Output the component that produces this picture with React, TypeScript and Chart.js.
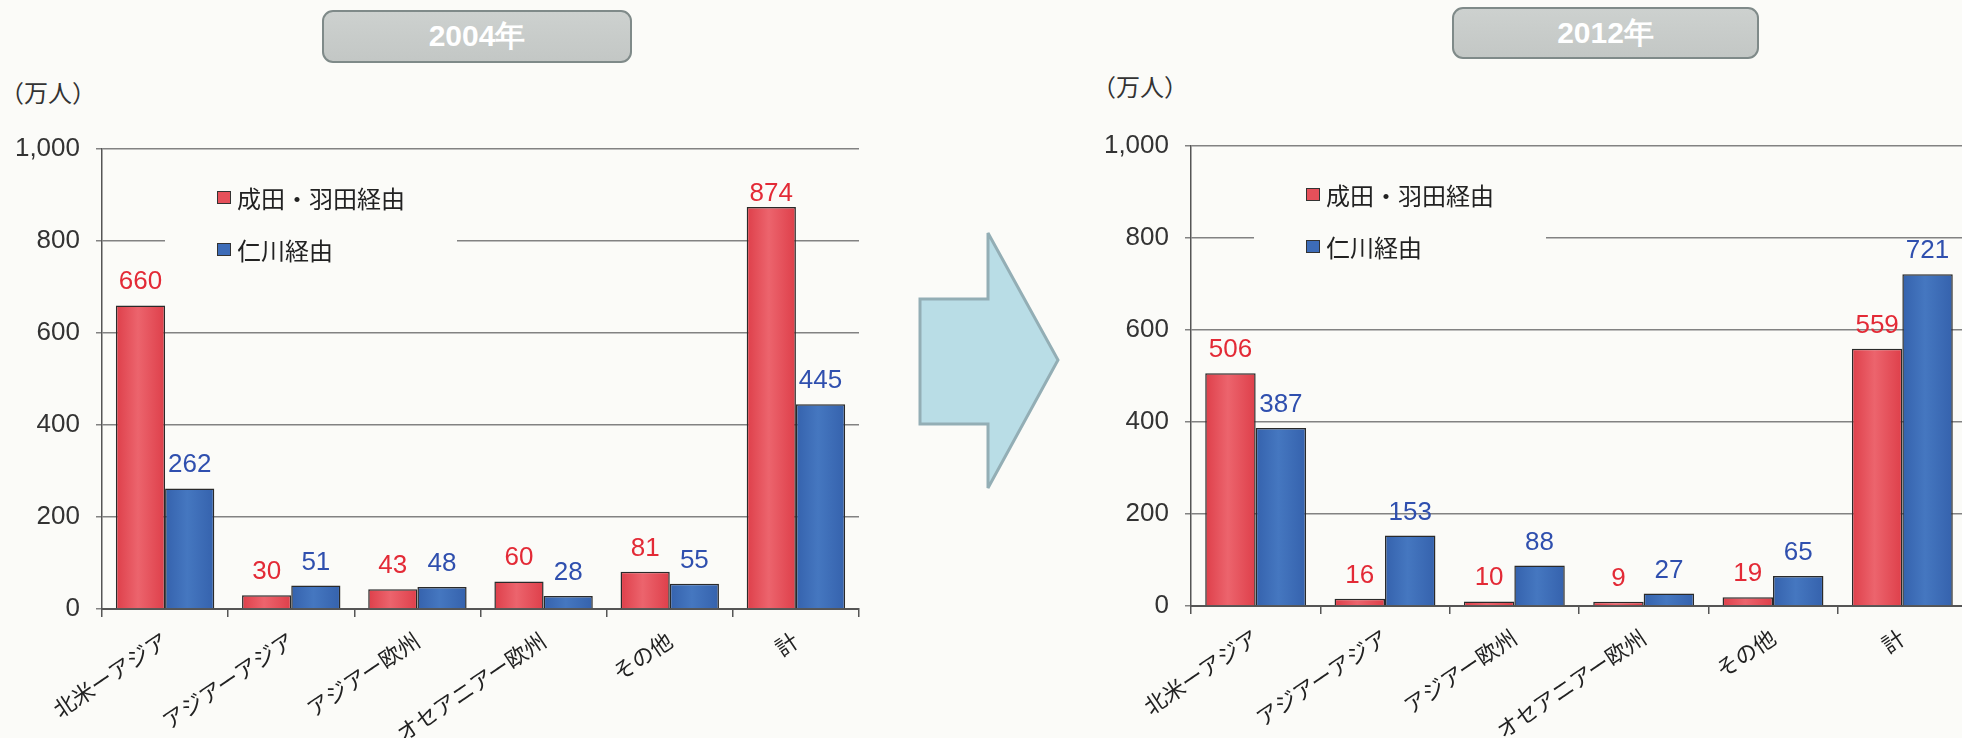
import React, { useEffect, useRef } from "react";
import { Chart, registerables } from "chart.js";

Chart.register(...registerables);

// Route categories shared by both panels
const categories = ["北米ーアジア", "アジアーアジア", "アジアー欧州", "オセアニアー欧州", "その他", "計"];
const seriesNames = ["成田・羽田経由", "仁川経由"];

// Transfer passengers (万人)
const narita2004 = [660, 30, 43, 60, 81, 874];
const incheon2004 = [262, 51, 48, 28, 55, 445];
const narita2012 = [506, 16, 10, 9, 19, 559];
const incheon2012 = [387, 153, 88, 27, 65, 721];

const yTicks = [0, 200, 400, 600, 800, 1000];
const panelTitles = ["2004年", "2012年"];
const unitLabel = "（万人）";

const BAR_FILL = ["#e6505a", "#3d6cb8"];
const BAR_EDGE = ["#de3f4a", "#3562ad"];
const BAR_MID = ["#ec646d", "#4577c0"];
const VALUE_COLOR = ["#e32a36", "#2f4fae"];
const PAGE_BG = "#fbfbf8";
const NUM_FONT = '"Liberation Sans", Arial, sans-serif';
const JP_FONT = '"Noto Sans CJK JP", "Noto Sans", sans-serif';
const GROUP_SHARE = 0.78;

// Soft horizontal shading across each bar
function barShade(di: number) {
  return (c: any) => {
    const chart = c.chart;
    const xs = chart.scales && chart.scales.x;
    if (!chart.chartArea || !xs || c.dataIndex === undefined || !isFinite(xs.width)) return BAR_FILL[di];
    const center = xs.getPixelForValue(c.dataIndex);
    const groupW = (xs.width / categories.length) * GROUP_SHARE;
    const barW = groupW / 2;
    const left = center - groupW / 2 + di * barW;
    const g = chart.ctx.createLinearGradient(left, 0, left + barW, 0);
    g.addColorStop(0, BAR_EDGE[di]);
    g.addColorStop(0.45, BAR_MID[di]);
    g.addColorStop(1, BAR_EDGE[di]);
    return g;
  };
}

// Numbers printed above each bar (kept a little below the top gridline)
const valueLabels = {
  id: "valueLabels",
  afterDatasetsDraw(chart: any) {
    const ctx = chart.ctx;
    const minBaseline = chart.chartArea.top + 52;
    ctx.save();
    ctx.font = `26px ${NUM_FONT}`;
    ctx.textAlign = "center";
    ctx.textBaseline = "alphabetic";
    chart.data.datasets.forEach((ds: any, di: number) => {
      const meta = chart.getDatasetMeta(di);
      ctx.fillStyle = VALUE_COLOR[di];
      meta.data.forEach((bar: any, i: number) => {
        ctx.fillText(String(ds.data[i]), bar.x, Math.max(bar.y - 16, minBaseline));
      });
    });
    ctx.restore();
  },
};

// Legend placed inside the plot, on a background patch that hides the grid
const insetLegend = {
  id: "insetLegend",
  beforeDatasetsDraw(chart: any) {
    const { ctx, chartArea } = chart;
    const x0 = chartArea.left;
    const y0 = chartArea.top;
    ctx.save();
    ctx.fillStyle = PAGE_BG;
    ctx.fillRect(x0 + 63, y0 + 22, 292, 104);
    chart.data.datasets.forEach((ds: any, di: number) => {
      const cy = y0 + 49 + di * 52;
      const sx = x0 + 115;
      ctx.fillStyle = BAR_FILL[di];
      ctx.fillRect(sx, cy - 7, 14, 13);
      ctx.strokeStyle = "#333";
      ctx.lineWidth = 1;
      ctx.strokeRect(sx + 0.5, cy - 6.5, 13, 12);
      ctx.fillStyle = "#222";
      ctx.font = `24px ${JP_FONT}`;
      ctx.textAlign = "left";
      ctx.textBaseline = "middle";
      ctx.fillText(ds.label, sx + 20, cy + 1);
    });
    ctx.restore();
  },
};

type PanelLayout = {
  left: number;
  width: number;
  padLeft: number;
  padTop: number;
  padRight: number;
  xAxisHeight: number;
};

function BarPanel({ red, blue, layout }: { red: number[]; blue: number[]; layout: PanelLayout }) {
  const ref = useRef<HTMLCanvasElement>(null);

  useEffect(() => {
    if (!ref.current) return;
    const chart = new Chart(ref.current, {
      type: "bar",
      data: {
        labels: categories,
        datasets: [
          { label: seriesNames[0], data: red, backgroundColor: barShade(0), borderColor: "#2a2a2a", borderWidth: 1.5 },
          { label: seriesNames[1], data: blue, backgroundColor: barShade(1), borderColor: "#2a2a2a", borderWidth: 1.5 },
        ],
      },
      options: {
        responsive: false,
        animation: false,
        devicePixelRatio: 1,
        layout: { padding: { left: layout.padLeft, top: layout.padTop, right: layout.padRight, bottom: 0 } },
        datasets: { bar: { categoryPercentage: GROUP_SHARE, barPercentage: 1 } },
        plugins: { legend: { display: false }, tooltip: { enabled: false } },
        scales: {
          x: {
            grid: { drawOnChartArea: false, drawTicks: true, tickLength: 8, color: "#555", lineWidth: 1.5 },
            border: { color: "#555", width: 2 },
            ticks: {
              autoSkip: false,
              minRotation: 34,
              maxRotation: 34,
              padding: 10,
              color: "#222",
              font: { family: JP_FONT, size: 22 },
            },
            afterFit: (s: any) => {
              s.height = layout.xAxisHeight;
            },
          },
          y: {
            min: 0,
            max: 1000,
            afterBuildTicks: (s: any) => {
              s.ticks = yTicks.map((v) => ({ value: v }));
            },
            ticks: {
              padding: 16,
              color: "#333",
              font: { family: NUM_FONT, size: 26 },
              callback: (v: any) => Number(v).toLocaleString("en-US"),
            },
            grid: { color: "#828282", lineWidth: 1.5, tickLength: 6 },
            border: { color: "#555", width: 1.5 },
            afterFit: (s: any) => {
              s.width = 90;
            },
          },
        },
      },
      plugins: [insetLegend, valueLabels],
    });
    return () => chart.destroy();
  }, [red, blue, layout]);

  return (
    <canvas
      ref={ref}
      width={layout.width}
      height={738}
      style={{ position: "absolute", left: layout.left, top: 0, width: layout.width, height: 738 }}
    />
  );
}

const leftLayout: PanelLayout = { left: 0, width: 900, padLeft: 12, padTop: 149, padRight: 41, xAxisHeight: 129 };
const rightLayout: PanelLayout = { left: 1000, width: 1000, padLeft: 101, padTop: 146, padRight: 33, xAxisHeight: 132 };

function TitleBox({ text, left, top, width, height }: { text: string; left: number; top: number; width: number; height: number }) {
  return (
    <div
      style={{
        position: "absolute",
        left,
        top,
        width,
        height,
        boxSizing: "border-box",
        border: "2px solid #7f8a89",
        borderRadius: 11,
        background: "linear-gradient(#cdd1cf, #c3c7c5)",
        color: "#ffffff",
        font: `bold 30px ${NUM_FONT}`,
        display: "flex",
        alignItems: "center",
        justifyContent: "center",
      }}
    >
      {text}
    </div>
  );
}

function UnitText({ left, top }: { left: number; top: number }) {
  return (
    <div style={{ position: "absolute", left, top, font: `24px ${JP_FONT}`, color: "#333", lineHeight: "28px" }}>
      {unitLabel}
    </div>
  );
}

export default function App() {
  return (
    <div
      style={{
        position: "fixed",
        left: 0,
        top: 0,
        width: 1962,
        height: 738,
        overflow: "hidden",
        background: PAGE_BG,
      }}
    >
      <TitleBox text={panelTitles[0]} left={322} top={10} width={310} height={53} />
      <TitleBox text={panelTitles[1]} left={1452} top={7} width={307} height={52} />
      <UnitText left={0} top={78} />
      <UnitText left={1092} top={72} />
      <BarPanel red={narita2004} blue={incheon2004} layout={leftLayout} />
      <BarPanel red={narita2012} blue={incheon2012} layout={rightLayout} />
      <svg width={1962} height={738} style={{ position: "absolute", left: 0, top: 0, pointerEvents: "none" }}>
        <polygon
          points="920,299 988,299 988,233 1058,360 988,488 988,424 920,424"
          fill="#b9dde6"
          stroke="#93aeb5"
          strokeWidth={3}
          strokeLinejoin="miter"
        />
      </svg>
    </div>
  );
}
